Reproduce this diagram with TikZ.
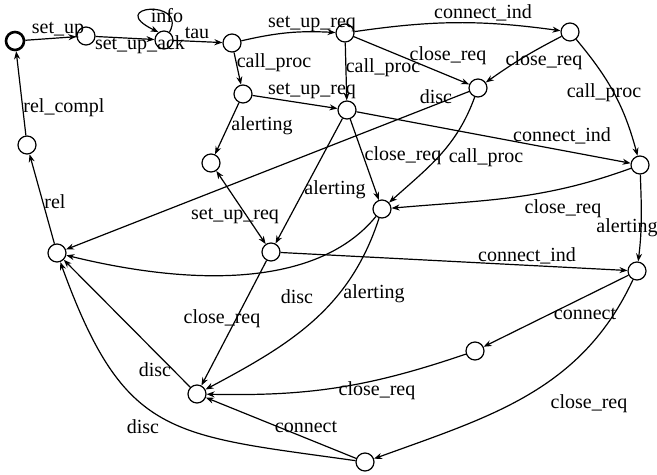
\documentclass[tikz,border=0pt]{standalone}
\usepackage{fontspec}
\setmainfont{Liberation Serif}
\usetikzlibrary{arrows.meta}

\begin{document}
\begin{tikzpicture}[x=0.5pt,y=-0.5pt,line width=0.6pt,
    state/.style={circle,draw,minimum size=9pt,inner sep=0pt},
    lbl/.style={font=\fontsize{10}{12}\selectfont,inner sep=0pt},
    >={Stealth[length=4pt,width=3pt]}]
    \useasboundingbox (0,0) rectangle (657,475);

    % states
    \node[state,line width=1.3pt] (n0) at (15,41) {};
    \node[state] (n1) at (86,36) {};
    \node[state] (n2) at (164,40) {};
    \node[state] (n3) at (232,43) {};
    \node[state] (n4) at (345,33) {};
    \node[state] (n5) at (570,32) {};
    \node[state] (n6) at (478,88) {};
    \node[state] (n7) at (243,94) {};
    \node[state] (n8) at (347,110) {};
    \node[state] (n9) at (211,163) {};
    \node[state] (n10) at (27,145) {};
    \node[state] (n11) at (640,165) {};
    \node[state] (n12) at (382,209) {};
    \node[state] (n13) at (57,253) {};
    \node[state] (n14) at (271,252) {};
    \node[state] (n15) at (637,271) {};
    \node[state] (n16) at (475,351) {};
    \node[state] (n17) at (197,394) {};
    \node[state] (n18) at (365,462) {};

    % transitions
    \draw[->] (n0) -- (n1);
    \draw[->] (n1) -- (n2);
    \draw[->] (n2.55) .. controls (188,-2) and (104,6) .. (n2.125);
    \draw[->] (n2) -- (n3);
    \draw[->] (n3) to[bend left=8] (n4);
    \draw[->] (n3) -- (n7);
    \draw[->] (n4) to[bend left=8] (n5);
    \draw[->] (n4) -- (n6);
    \draw[->] (n4) -- (n8);
    \draw[->] (n5) to[bend right=4] (n6);
    \draw[->] (n5) to[out=-50,in=105] (n11);
    \draw[->] (n6) -- (n13);
    \draw[->] (n6) to[out=-110,in=42] (n12);
    \draw[->] (n7) -- (n8);
    \draw[->] (n7) -- (n9);
    \draw[->] (n8) -- (n11);
    \draw[->] (n8) -- (n12);
    \draw[->] (n8) -- (n14);
    \draw[<->] (n9) -- (n14);
    \draw[->] (n10) -- (n0);
    \draw[->] (n13) -- (n10);
    \draw[->] (n11) to[out=-160,in=5] (n12);
    \draw[->] (n11) to[out=-88,in=83] (n15);
    \draw[->] (n12) .. controls (320,285) and (200,288) .. (n13);
    \draw[->] (n12) to[out=-108,in=28] (n17);
    \draw[->] (n14) -- (n15);
    \draw[->] (n14) -- (n17);
    \draw[->] (n15) -- (n16);
    \draw[->] (n15) to[out=-115,in=20] (n18);
    \draw[->] (n16) to[bend left=10] (n17);
    \draw[->] (n18) -- (n17);
    \draw[->] (n17) -- (n13);
    \draw[->] (n18) to[out=172,in=-70,looseness=1.35] (n13);

    % labels
    \node[lbl] (t1) at (58,30) {set\_up};
    \node[lbl] (t2) at (140,45) {set\_up\_ack};
    \node[lbl] (t3) at (167,16) {info};
    \node[lbl] (t4) at (197,33) {tau};
    \node[lbl] (t5) at (64,108) {rel\_compl};
    \node[lbl] (t6) at (312,24) {set\_up\_req};
    \node[lbl] (t7) at (274,63) {call\_proc};
    \node[lbl] (t8) at (383,68) {call\_proc};
    \node[lbl] (t9) at (312,91) {set\_up\_req};
    \node[lbl] (t10) at (262,126) {alerting};
    \node[lbl] (t11) at (483,13) {connect\_ind};
    \node[lbl] (t12) at (448,56) {close\_req};
    \node[lbl] (t13) at (544,61) {close\_req};
    \node[lbl] (t14) at (436,97) {disc};
    \node[lbl] (t15) at (604,93) {call\_proc};
    \node[lbl] (t16) at (562,136) {connect\_ind};
    \node[lbl] (t17) at (403,156) {close\_req};
    \node[lbl] (t18) at (486,158) {call\_proc};
    \node[lbl] (t19) at (235,216) {set\_up\_req};
    \node[lbl] (t20) at (335,190) {alerting};
    \node[lbl] (t21) at (563,209) {close\_req};
    \node[lbl] (t22) at (627,228) {alerting};
    \node[lbl] (t23) at (527,256) {connect\_ind};
    \node[lbl] (t24) at (55,202) {rel};
    \node[lbl] (t25) at (297,297) {disc};
    \node[lbl] (t26) at (374,294) {alerting};
    \node[lbl] (t27) at (222,319) {close\_req};
    \node[lbl] (t28) at (585,314) {connect};
    \node[lbl] (t29) at (377,391) {close\_req};
    \node[lbl] (t30) at (306,427) {connect};
    \node[lbl] (t31) at (589,404) {close\_req};
    \node[lbl] (t32) at (155,370) {disc};
    \node[lbl] (t33) at (143,427) {disc};
\end{tikzpicture}
\end{document}
